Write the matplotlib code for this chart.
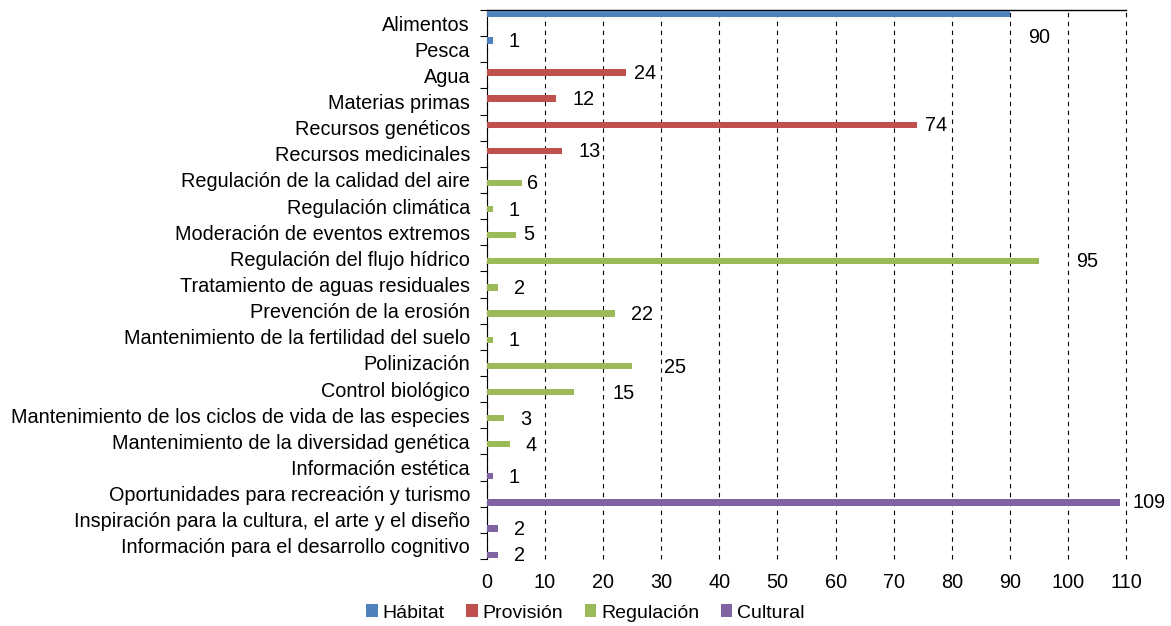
import numpy as np
import matplotlib
matplotlib.use("Agg")
import matplotlib.pyplot as plt
from matplotlib.patches import Patch
from matplotlib.ticker import FixedLocator, MultipleLocator

plt.rcParams['font.family'] = ['Liberation Sans', 'DejaVu Sans']

# datos
categorias = ["Alimentos", "Pesca", "Agua", "Materias primas", "Recursos genéticos",
              "Recursos medicinales", "Regulación de la calidad del aire",
              "Regulación climática", "Moderación de eventos extremos",
              "Regulación del flujo hídrico", "Tratamiento de aguas residuales",
              "Prevención de la erosión", "Mantenimiento de la fertilidad del suelo",
              "Polinización", "Control biológico",
              "Mantenimiento de los ciclos de vida de las especies",
              "Mantenimiento de la diversidad genética", "Información estética",
              "Oportunidades para recreación y turismo",
              "Inspiración para la cultura, el arte y el diseño",
              "Información para el desarrollo cognitivo"]
valores = [90, 1, 24, 12, 74, 13, 6, 1, 5, 95, 2, 22, 1, 25, 15, 3, 4, 1, 109, 2, 2]
grupo = ["Hábitat", "Hábitat", "Provisión", "Provisión", "Provisión", "Provisión",
         "Regulación", "Regulación", "Regulación", "Regulación", "Regulación",
         "Regulación", "Regulación", "Regulación", "Regulación", "Regulación",
         "Regulación", "Cultural", "Cultural", "Cultural", "Cultural"]
series = ["Hábitat", "Provisión", "Regulación", "Cultural"]
colores = ["#4F81BD", "#C0504D", "#9BBB59", "#8064A2"]

# desplazamientos de las etiquetas (px) movidas a mano en el original
ajuste_etiqueta = {"Alimentos": (18, 23), "Agua": (8, 1), "Recursos genéticos": (8, 1),
                   "Regulación de la calidad del aire": (5, 1),
                   "Moderación de eventos extremos": (7, -1),
                   "Regulación del flujo hídrico": (37, 0), "Polinización": (32, 2),
                   "Control biológico": (39, 1), "Oportunidades para recreación y turismo": (12, 0)}

fs = 14.3
fig = plt.figure(figsize=(11.71, 6.26), dpi=100)
ax = fig.add_axes([486.7 / 1171, 1 - 559 / 626, 639.6 / 1171, 549 / 626])

n = len(categorias)
slot = 0.2256
pos = np.arange(n)
px = 0.72  # puntos por pixel

for k, (s, c) in enumerate(zip(series, colores)):
    idx = [i for i in range(n) if grupo[i] == s]
    y = pos[idx] + (k - 1.5) * slot
    v = [valores[i] for i in idx]
    ax.barh(y, v, height=0.24, color=c, zorder=3)
    for yy, vv, i in zip(y, v, idx):
        dx, dy = ajuste_etiqueta.get(categorias[i], (16, 1))
        ax.annotate(str(vv), (vv, yy), xytext=(dx * px, -dy * px), textcoords='offset points',
                    ha='left', va='center', fontsize=fs, color='#000000',
                    annotation_clip=False)

ax.set_xlim(0, 110)
ax.set_ylim(n - 0.5, -0.5)
ax.xaxis.set_major_locator(MultipleLocator(10))
ax.grid(axis='x', color='black', linestyle=(0, (4, 4)), linewidth=0.8, zorder=1)
for gl in ax.get_xgridlines():
    gl.set_clip_on(False)
ax.set_yticks(pos)
ax.set_yticklabels(categorias, fontsize=fs)
ax.yaxis.set_minor_locator(FixedLocator(np.arange(-0.5, n, 1)))
ax.tick_params(axis='y', which='major', length=0, pad=12)
ax.tick_params(axis='y', which='minor', length=5, width=0.8, direction='out')
ax.tick_params(axis='x', length=0, pad=10, labelsize=fs)
for sp in ['right', 'bottom']:
    ax.spines[sp].set_visible(False)
ax.spines['left'].set_linewidth(0.8)
ax.spines['top'].set_linewidth(1.0)

manejadores = [Patch(facecolor=c, label=s) for s, c in zip(series, colores)]
fig.legend(handles=manejadores, loc='center', bbox_to_anchor=(585.5 / 1171, 1 - 613 / 626),
           ncol=4, frameon=False, fontsize=14, handlelength=0.6, handleheight=0.6,
           handletextpad=0.25, columnspacing=1.1)

fig.savefig("out.png", dpi=100)
